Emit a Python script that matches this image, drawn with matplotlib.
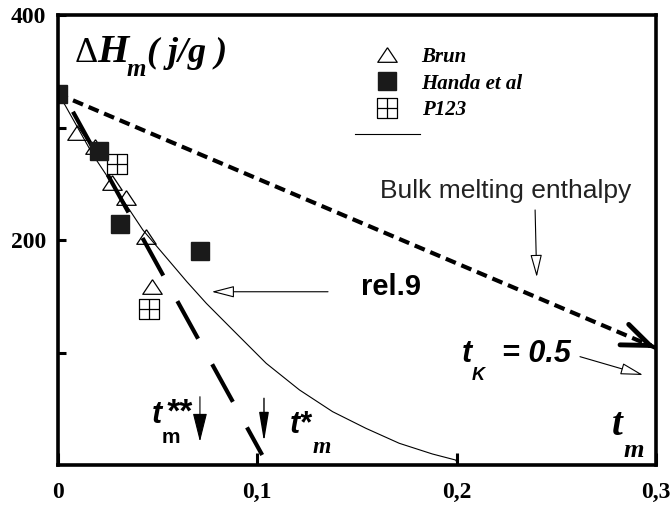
import matplotlib
matplotlib.use("Agg")
import matplotlib.pyplot as plt
from matplotlib.path import Path

# data
brun_x = [0.010, 0.0188, 0.0275, 0.0343, 0.0443, 0.0475]
brun_y = [295, 283, 251, 237, 203, 158]

handa_x = [0.0, 0.0208, 0.0314, 0.0712]
handa_y = [330, 279, 214, 190]

p123_x = [0.030, 0.046]
p123_y = [267.5, 139]

# thin solid curve
curve_x = [0.0, 0.00375, 0.0178, 0.0428, 0.0648, 0.0746, 0.0879, 0.1046,
           0.1213, 0.1379, 0.1546, 0.1713, 0.1879, 0.1996, 0.2]
curve_y = [330, 320, 275.6, 208.9, 163, 143.7, 120, 90.4,
           66.7, 47.4, 32.6, 19.3, 9.8, 4.4, 3]

# rel.9 long dashed line
rel9_x = [0.00775, 0.1026]
rel9_y = [314, 8.9]

# bulk melting enthalpy line
bulk_x = [0.0, 0.3]
bulk_y = [330, 104]

xticks = [0, 0.1, 0.2, 0.3]
xlabels = ["0", "0,1", "0,2", "0,3"]
yticks = [100, 200, 300, 400]
ylabels = ["", "200", "", "400"]

serif_bi = dict(family="Liberation Serif", weight="bold", style="italic")
sans_b = dict(family="Liberation Sans", weight="bold")
sans_bi = dict(family="Liberation Sans", weight="bold", style="italic")

M, L = Path.MOVETO, Path.LINETO
box_plus = Path([(-1, -1), (1, -1), (1, 1), (-1, 1), (-1, -1), (0, -1), (0, 1), (-1, 0), (1, 0)],
                [M, L, L, L, L, M, L, M, L])
tri = Path([(0, 0.8), (-1, -0.7), (1, -0.7), (0, 0.8)], [M, L, L, L])

fig = plt.figure(figsize=(6.71, 5.12), dpi=100)
ax = fig.add_axes([57.5 / 671, 47 / 512, 598.5 / 671, 450 / 512])

l_curve, = ax.plot(curve_x, curve_y, color="black", lw=0.8)
ax.plot(bulk_x, bulk_y, color="black", lw=3, ls=(0, (2.6, 1.45)))
ax.plot(rel9_x, rel9_y, color="black", lw=3, ls=(0, (10.3, 7)))
l_brun, = ax.plot(brun_x, brun_y, ls="none", marker=tri, ms=14, mfc="none", mec="black", mew=0.9)
l_p123, = ax.plot(p123_x, p123_y, ls="none", marker=box_plus, ms=14, mfc="none", mec="black", mew=0.9)
l_handa, = ax.plot(handa_x, handa_y, ls="none", marker="s", ms=13, mfc="#1a1a1a", mec="#1a1a1a")

ax.set_xlim(0, 0.3)
ax.set_ylim(0, 400)
ax.set_xticks(xticks)
ax.set_xticklabels(xlabels, family="Liberation Serif", weight="bold", fontsize=17)
ax.set_yticks(yticks)
ax.set_yticklabels(ylabels, family="Liberation Serif", weight="bold", fontsize=17)
ax.tick_params(axis="x", direction="in", length=8.6, width=2.2, pad=12)
ax.tick_params(axis="y", direction="in", length=5.8, width=2.2, pad=8)
for s in ax.spines.values():
    s.set_linewidth(2.6)

leg = ax.legend([l_brun, l_handa, l_p123, l_curve], ["Brun", "Handa et al", "P123", ""],
                loc="upper left", bbox_to_anchor=(0.497, 0.928), frameon=False,
                prop=dict(family="Liberation Serif", weight="bold", style="italic", size=15),
                borderpad=0, borderaxespad=0, handlelength=3.1, handletextpad=0.1,
                labelspacing=0.3, numpoints=1)

# axis title inside plot
ax.text(0.0088, 358, "\u0394", family="Liberation Serif", fontsize=26, va="baseline")
ax.text(0.0198, 358, "H", fontsize=29, va="baseline", **serif_bi)
ax.text(0.0348, 346, "m", fontsize=18, va="baseline", **serif_bi)
ax.text(0.0448, 358, "( j/g )", fontsize=26, va="baseline", **serif_bi)

ax.text(0.1617, 237.3, "Bulk melting enthalpy", family="Liberation Sans", fontsize=19,
        va="baseline", color="#222222")
ax.text(0.1521, 151, "rel.9", fontsize=21, va="baseline", **sans_b)

ax.text(0.2028, 91.6, "t", fontsize=22, va="baseline", **sans_bi)
ax.text(0.2078, 75.6, "K", fontsize=13, va="baseline", **sans_bi)
ax.text(0.2228, 91.6, "= 0.5", fontsize=22, va="baseline", **sans_bi)

ax.text(0.0474, 37.5, "t", fontsize=22, va="baseline", **sans_bi)
ax.text(0.0540, 38.5, "**", fontsize=24, va="baseline", **sans_bi)
ax.text(0.0524, 19.5, "m", fontsize=15, va="baseline", **sans_b)

ax.text(0.1165, 28.4, "t*", fontsize=22, va="baseline", **sans_bi)
ax.text(0.128, 10.7, "m", fontsize=17, va="baseline", **serif_bi)

ax.text(0.2779, 26.7, "t", fontsize=28, va="baseline", **serif_bi)
ax.text(0.2835, 7.1, "m", fontsize=19, va="baseline", **serif_bi)

# arrows
open_head = dict(arrowstyle="-|>,head_length=1.4,head_width=0.36", fc="white", ec="black",
                 lw=0.8, mutation_scale=10, shrinkA=0, shrinkB=0)
ax.annotate("", xy=(0.2402, 167), xytext=(0.2394, 226.7), arrowprops=open_head)
ax.annotate("", xy=(0.0773, 154), xytext=(0.1356, 154), arrowprops=open_head)
ax.annotate("", xy=(0.2935, 80), xytext=(0.2619, 96.3), arrowprops=open_head)
ax.annotate("", xy=(0.0714, 20.7), xytext=(0.0714, 60.7),
            arrowprops=dict(arrowstyle="-|>,head_length=1.8,head_width=0.45", fc="black",
                            ec="black", lw=0.8, mutation_scale=10, shrinkA=0, shrinkB=0))
ax.annotate("", xy=(0.1035, 20.7), xytext=(0.1035, 59.3),
            arrowprops=dict(arrowstyle="-|>,head_length=1.8,head_width=0.3", fc="black",
                            ec="black", lw=1.0, mutation_scale=10, shrinkA=0, shrinkB=0))
ax.annotate("", xy=(0.3, 104), xytext=(0.296, 107),
            arrowprops=dict(arrowstyle="->,head_length=1.0,head_width=0.4", color="black",
                            lw=3.5, mutation_scale=20, shrinkA=0, shrinkB=0))

fig.savefig("out.png", dpi=100)
